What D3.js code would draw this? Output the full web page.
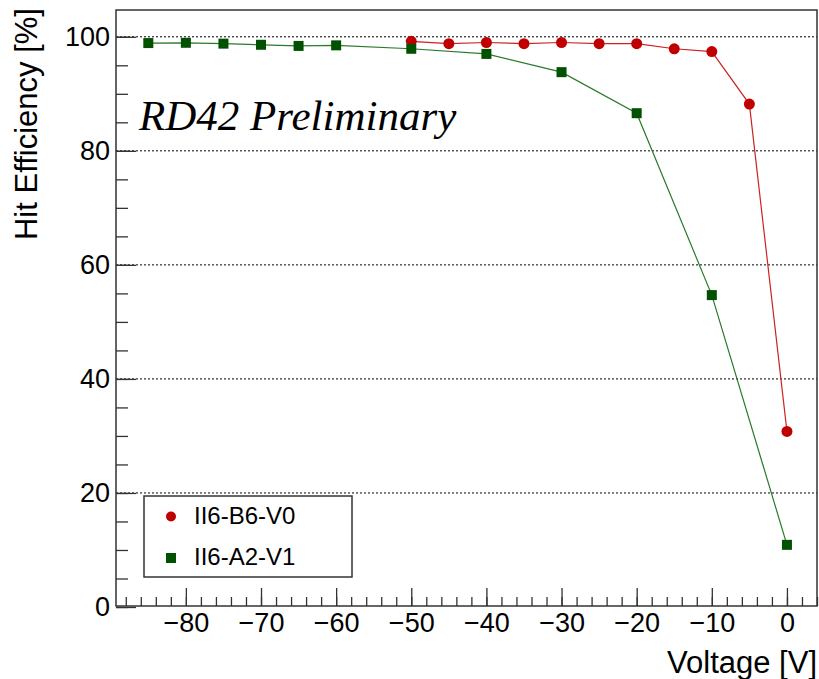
<!DOCTYPE html>
<head>
  <meta charset="utf-8">
  <title>Hit Efficiency vs Voltage</title>
  <style>
    body { margin: 0; padding: 0; background-color: #fff; }
    svg text { font-family: 'Liberation Sans', Arial, sans-serif; fill: #000; }
    .axis text { font-size: 27px; }
    .axis line { stroke: #333; stroke-width: 1.3px; }
    .grid line { stroke: #000; stroke-width: 1px; stroke-dasharray: 2,2; }
    .title { font-size: 31px; }
    .legend text { font-size: 24px; }
  </style>
</head>
<body>
  <div id="vis"></div>
  <script src="https://cdn.jsdelivr.net/npm/d3@7"></script>
  <script>
    // data
    var redName = 'II6-B6-V0',
        redVoltage = [-50, -45, -40, -35, -30, -25, -20, -15, -10, -5, 0],
        redEff = [99.2, 98.8, 99.0, 98.8, 99.0, 98.8, 98.8, 97.9, 97.4, 88.2, 30.8];
    var greenName = 'II6-A2-V1',
        greenVoltage = [-85, -80, -75, -70, -65, -60, -50, -40, -30, -20, -10, 0],
        greenEff = [98.9, 98.95, 98.8, 98.6, 98.4, 98.5, 97.9, 97.0, 93.8, 86.6, 54.7, 10.9];
    var xMajor = [-80, -70, -60, -50, -40, -30, -20, -10, 0],
        yMajor = [0, 20, 40, 60, 80, 100];

    var width = 819, height = 679,
        padL = 116, padR = 817, padT = 10, padB = 606;

    var x = d3.scaleLinear().domain([-89.3, 4]).range([padL, padR]),
        y = d3.scaleLinear().domain([0, 104.7]).range([padB + 1, padT]);

    var svg = d3.select('#vis').append('svg')
      .attr('width', width)
      .attr('height', height);

    // dotted grid
    svg.append('g').attr('class', 'grid')
      .selectAll('line')
      .data(yMajor.filter(function(d) { return d > 0; }))
      .enter().append('line')
        .attr('x1', padL).attr('x2', padR)
        .attr('y1', function(d) { return y(d); })
        .attr('y2', function(d) { return y(d); });

    // x axis: ticks point up into the frame
    var xMinor = d3.range(-88, 4.1, 2);
    svg.append('g').attr('class', 'axis')
      .attr('transform', 'translate(0,' + padB + ')')
      .call(d3.axisBottom(x).tickValues(xMinor).tickFormat('').tickSizeInner(-9).tickSizeOuter(0))
      .call(function(g) { g.select('.domain').remove(); });
    svg.append('g').attr('class', 'axis')
      .attr('transform', 'translate(0,' + padB + ')')
      .call(d3.axisBottom(x).tickValues(xMajor).tickSizeInner(-18).tickSizeOuter(0).tickPadding(7))
      .call(function(g) { g.select('.domain').remove(); });

    // y axis: ticks point right
    var yMinor = d3.range(0, 104, 5);
    svg.append('g').attr('class', 'axis')
      .attr('transform', 'translate(' + padL + ',0)')
      .call(d3.axisLeft(y).tickValues(yMinor).tickFormat('').tickSizeInner(-12).tickSizeOuter(0))
      .call(function(g) { g.select('.domain').remove(); });
    svg.append('g').attr('class', 'axis')
      .attr('transform', 'translate(' + padL + ',0)')
      .call(d3.axisLeft(y).tickValues(yMajor).tickSizeInner(-20).tickSizeOuter(0).tickPadding(6))
      .call(function(g) { g.select('.domain').remove(); });

    // frame
    svg.append('rect')
      .attr('x', padL).attr('y', padT)
      .attr('width', padR - padL).attr('height', padB - padT)
      .style('fill', 'none').style('stroke', '#333').style('stroke-width', 1.5);

    var line = d3.line()
      .x(function(d) { return x(d[0]); })
      .y(function(d) { return y(d[1]); });

    var red = d3.zip(redVoltage, redEff),
        green = d3.zip(greenVoltage, greenEff);

    svg.append('path').datum(red)
      .attr('d', line)
      .style('fill', 'none').style('stroke', '#cc2222').style('stroke-width', 1.2);
    svg.append('path').datum(green)
      .attr('d', line)
      .style('fill', 'none').style('stroke', '#2a7a2a').style('stroke-width', 1.2);

    svg.append('g').selectAll('circle')
      .data(red)
      .enter().append('circle')
        .attr('cx', function(d) { return x(d[0]); })
        .attr('cy', function(d) { return y(d[1]); })
        .attr('r', 5.5)
        .style('fill', '#c00000');

    svg.append('g').selectAll('rect')
      .data(green)
      .enter().append('rect')
        .attr('x', function(d) { return x(d[0]) - 5; })
        .attr('y', function(d) { return y(d[1]) - 5; })
        .attr('width', 10).attr('height', 10)
        .style('fill', '#005200');

    // axis titles
    svg.append('text').attr('class', 'title')
      .attr('x', padR).attr('y', 673)
      .attr('text-anchor', 'end')
      .text('Voltage [V]');
    svg.append('text').attr('class', 'title')
      .attr('transform', 'translate(37,8) rotate(-90)')
      .attr('text-anchor', 'end')
      .text('Hit Efficiency [%]');

    svg.append('text')
      .attr('x', 139).attr('y', 130)
      .style('font-family', "'Liberation Serif', 'Times New Roman', serif")
      .style('font-style', 'italic')
      .style('font-size', '43px')
      .text('RD42 Preliminary');

    // legend
    var legend = svg.append('g').attr('class', 'legend');
    legend.append('rect')
      .attr('x', 144).attr('y', 496)
      .attr('width', 208).attr('height', 81)
      .style('fill', '#fff').style('stroke', '#333').style('stroke-width', 1.5);
    legend.append('circle')
      .attr('cx', 171).attr('cy', 516.5).attr('r', 5)
      .style('fill', '#c00000');
    legend.append('rect')
      .attr('x', 166).attr('y', 553).attr('width', 10).attr('height', 10)
      .style('fill', '#005200');
    legend.append('text').attr('x', 194).attr('y', 524).text(redName);
    legend.append('text').attr('x', 194).attr('y', 565).text(greenName);
  </script>
</body>
